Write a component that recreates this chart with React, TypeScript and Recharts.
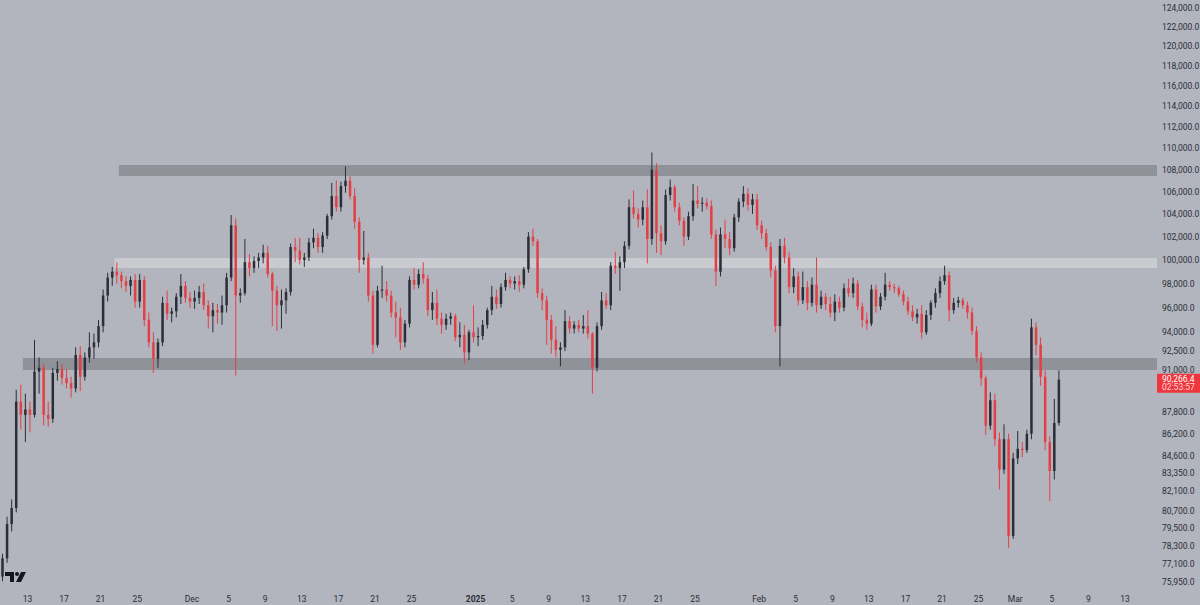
import React from 'react'
import { ComposedChart, Bar, XAxis, YAxis, ReferenceArea, ReferenceLine } from 'recharts'

// 12h candles, [open, high, low, close] in thousands USD
const nov = [
  [76.3, 77.8, 76.0, 77.5], [77.5, 80.3, 77.2, 79.8], [79.8, 81.5, 79.3, 80.9], [80.9, 89.5, 80.6, 88.6],
  [88.6, 89.9, 86.5, 87.6], [87.6, 89.2, 85.6, 88.0], [88.0, 88.6, 86.3, 87.6], [87.6, 93.4, 87.4, 90.9],
  [90.9, 92.0, 89.2, 91.2], [91.2, 91.5, 86.8, 87.6], [87.6, 88.6, 86.7, 87.3], [87.3, 91.2, 87.0, 90.8],
  [90.8, 91.7, 90.2, 91.1], [91.1, 91.5, 89.9, 90.4], [90.4, 91.1, 89.6, 90.0], [90.0, 90.5, 88.9, 89.6],
  [89.6, 92.8, 89.3, 92.2], [92.2, 92.9, 89.4, 90.5], [90.5, 92.4, 90.2, 92.0], [92.0, 94.0, 91.6, 92.8],
  [92.8, 93.9, 91.9, 93.2], [93.2, 95.0, 92.8, 94.5], [94.5, 97.5, 94.0, 97.0], [97.0, 98.9, 96.5, 98.5],
  [98.5, 99.4, 97.8, 99.0], [99.0, 99.8, 98.0, 98.7], [98.7, 99.0, 97.6, 98.2], [98.2, 98.6, 97.3, 97.8],
  [97.8, 98.6, 97.0, 98.3], [98.3, 98.8, 96.0, 96.5], [96.5, 98.8, 96.0, 98.3], [98.3, 98.6, 94.5, 95.0],
  [95.0, 95.6, 92.8, 93.2], [93.2, 94.0, 90.8, 91.9], [91.9, 93.5, 91.2, 93.2], [93.2, 96.9, 92.9, 96.4],
  [96.4, 97.4, 95.0, 95.5], [95.5, 96.0, 94.8, 95.7], [95.7, 97.2, 95.2, 96.9], [96.9, 98.8, 96.3, 97.8],
  [97.8, 98.2, 96.4, 96.8], [96.8, 97.3, 96.0, 96.5],
]

const dec = [
  [96.5, 97.4, 95.9, 96.8], [96.8, 97.8, 96.3, 97.3], [97.3, 98.0, 95.8, 96.2], [96.2, 96.6, 94.3, 95.3],
  [95.3, 96.4, 94.0, 95.8], [95.8, 96.3, 94.7, 95.6], [95.6, 97.0, 94.6, 96.2], [96.2, 98.9, 95.6, 98.5],
  [98.5, 103.9, 98.2, 103.0], [103.0, 103.6, 90.6, 97.0], [97.0, 97.6, 96.4, 97.2], [97.2, 101.8, 97.0, 99.8],
  [99.8, 100.5, 98.6, 99.3], [99.3, 100.3, 98.9, 99.9], [99.9, 100.6, 99.3, 100.2], [100.2, 101.3, 99.7, 100.6],
  [100.6, 101.2, 98.5, 98.8], [98.8, 99.0, 94.5, 97.4], [97.4, 97.8, 94.1, 96.2], [96.2, 97.5, 94.3, 96.6],
  [96.6, 97.6, 95.5, 97.3], [97.3, 101.4, 97.0, 101.1], [101.1, 101.9, 99.8, 100.8], [100.8, 101.9, 99.6, 100.0],
  [100.0, 100.6, 99.4, 100.2], [100.2, 101.9, 99.9, 101.5], [101.5, 102.7, 101.0, 101.9], [101.9, 102.3, 100.6, 101.1],
  [101.1, 102.4, 100.6, 102.1], [102.1, 104.0, 101.8, 103.8], [103.8, 106.8, 103.5, 105.6], [105.6, 107.0, 104.2, 104.6],
  [104.6, 106.9, 104.2, 106.5], [106.5, 108.3, 105.9, 107.0], [107.0, 107.4, 105.3, 105.6], [105.6, 106.3, 102.7, 103.3],
  [103.3, 103.7, 98.9, 100.0], [100.0, 102.5, 99.6, 100.2], [100.2, 100.6, 96.5, 97.0], [97.0, 97.4, 92.3, 93.0],
  [93.0, 97.8, 92.8, 97.4], [97.4, 99.5, 96.8, 97.5], [97.5, 98.2, 96.5, 97.0], [97.0, 97.4, 95.2, 95.6],
  [95.6, 96.5, 93.6, 95.2], [95.2, 96.0, 92.6, 93.2], [93.2, 95.0, 92.8, 94.7], [94.7, 98.6, 94.4, 98.3],
  [98.3, 99.3, 97.5, 97.9], [97.9, 99.2, 97.6, 98.8], [98.8, 99.8, 98.0, 98.4], [98.4, 98.7, 95.3, 95.8],
  [95.8, 97.3, 95.0, 96.4], [96.4, 97.5, 94.6, 95.1], [95.1, 95.6, 93.9, 94.6], [94.6, 95.5, 94.2, 95.1],
  [95.1, 95.6, 94.6, 95.3], [95.3, 95.5, 93.3, 93.6], [93.6, 94.8, 92.8, 93.8], [93.8, 94.6, 91.5, 92.4],
  [92.4, 94.2, 91.8, 94.0], [94.0, 96.2, 93.2, 93.6],
]

const jan = [
  [93.6, 94.4, 92.9, 93.7], [93.7, 95.0, 93.4, 94.6], [94.6, 96.0, 94.3, 95.8], [95.8, 97.8, 95.4, 96.9],
  [96.9, 97.5, 95.9, 96.3], [96.3, 98.0, 96.0, 97.7], [97.7, 98.9, 97.4, 98.3], [98.3, 98.6, 97.6, 98.0],
  [98.0, 98.6, 97.5, 98.2], [98.2, 98.7, 97.3, 97.9], [97.9, 99.4, 97.6, 99.2], [99.2, 102.4, 98.9, 102.0],
  [102.0, 102.7, 101.2, 101.6], [101.6, 101.8, 96.8, 97.2], [97.2, 97.6, 95.8, 96.6], [96.6, 97.0, 93.0, 95.0],
  [95.0, 95.4, 92.3, 93.4], [93.4, 94.5, 92.0, 92.6], [92.6, 93.2, 91.3, 92.8], [92.8, 95.8, 92.5, 94.9],
  [94.9, 95.3, 93.9, 94.3], [94.3, 94.9, 93.9, 94.6], [94.6, 95.0, 94.0, 94.3], [94.3, 95.4, 93.9, 94.5],
  [94.5, 95.8, 93.5, 93.9], [93.9, 94.0, 89.2, 91.2], [91.2, 94.8, 90.9, 94.5], [94.5, 97.3, 94.2, 96.6],
  [96.6, 97.2, 95.9, 96.2], [96.2, 99.8, 95.8, 99.5], [99.5, 100.7, 98.8, 99.3], [99.3, 100.3, 97.4, 99.8],
  [99.8, 101.6, 99.3, 101.2], [101.2, 105.3, 100.9, 104.6], [104.6, 106.1, 103.6, 104.0], [104.0, 104.5, 102.8, 103.5],
  [103.5, 105.2, 103.0, 104.6], [104.6, 106.2, 99.7, 101.8], [101.8, 109.6, 101.3, 108.0], [108.0, 108.6, 100.6, 102.3],
  [102.3, 103.0, 100.4, 101.6], [101.6, 106.2, 101.3, 105.7], [105.7, 107.1, 105.2, 106.4], [106.4, 106.6, 104.2, 104.6],
  [104.6, 105.0, 103.0, 103.4], [103.4, 103.7, 101.2, 102.0], [102.0, 104.2, 101.7, 103.8], [103.8, 106.7, 103.4, 105.2],
  [105.2, 106.5, 104.5, 104.9], [104.9, 105.5, 104.2, 105.0], [105.0, 105.4, 104.4, 104.7],
  [104.7, 105.2, 101.8, 102.2], [102.2, 102.6, 97.8, 99.0], [99.0, 102.8, 98.6, 102.2], [102.2, 103.5, 101.0, 101.8],
  [101.8, 102.4, 100.4, 101.0], [101.0, 104.0, 100.7, 103.7], [103.7, 105.4, 103.3, 105.1], [105.1, 106.5, 104.6, 105.8],
  [105.8, 106.3, 104.3, 104.8], [104.8, 105.8, 104.0, 105.3],
]

const feb = [
  [105.3, 105.8, 102.6, 103.0], [103.0, 103.4, 101.8, 102.3], [102.3, 102.7, 100.8, 101.1], [101.1, 101.5, 98.5, 99.1],
  [99.1, 99.5, 94.0, 94.5], [94.5, 101.8, 91.3, 101.2], [101.2, 101.9, 99.7, 100.2], [100.2, 100.7, 97.2, 97.7],
  [97.7, 99.3, 97.2, 98.6], [98.6, 99.0, 96.2, 96.6], [96.6, 99.0, 96.3, 97.7], [97.7, 98.2, 95.8, 96.4],
  [96.4, 98.5, 96.1, 97.9], [97.9, 100.2, 95.6, 96.2], [96.2, 97.4, 95.9, 96.9], [96.9, 97.2, 95.8, 96.3],
  [96.3, 96.9, 95.2, 95.6], [95.6, 97.1, 94.9, 96.5], [96.5, 96.9, 95.6, 96.0], [96.0, 98.0, 95.7, 97.6],
  [97.6, 98.4, 96.9, 97.2], [97.2, 98.5, 96.8, 98.0], [98.0, 98.3, 95.8, 96.1], [96.1, 96.4, 94.4, 95.0],
  [95.0, 95.6, 94.2, 94.7], [94.7, 97.9, 94.5, 97.5], [97.5, 97.9, 95.6, 96.1], [96.1, 97.2, 95.8, 96.9],
  [96.9, 98.9, 96.6, 97.9], [97.9, 98.2, 97.4, 97.7], [97.7, 98.0, 97.2, 97.6], [97.6, 97.8, 96.9, 97.1],
  [97.1, 97.4, 96.2, 96.5], [96.5, 96.9, 95.4, 95.7], [95.7, 96.2, 94.9, 95.2], [95.2, 95.9, 94.7, 95.5],
  [95.5, 96.2, 93.5, 94.0], [94.0, 95.8, 93.8, 95.4], [95.4, 96.6, 95.0, 96.4], [96.4, 97.6, 96.0, 97.2],
  [97.2, 98.6, 96.8, 98.2], [98.2, 99.5, 97.9, 98.7], [98.7, 99.0, 94.9, 95.8], [95.8, 96.8, 95.5, 96.4],
  [96.4, 96.9, 96.0, 96.6], [96.6, 96.8, 95.9, 96.2], [96.2, 96.5, 95.1, 95.6], [95.6, 96.0, 93.8, 94.1],
  [94.1, 94.5, 91.6, 92.0], [92.0, 92.4, 89.8, 90.4], [90.4, 90.6, 86.1, 86.8], [86.8, 89.3, 86.5, 88.7],
  [88.7, 89.2, 85.3, 85.8], [85.8, 86.3, 82.2, 83.6], [83.6, 86.9, 83.3, 85.8], [85.8, 86.2, 78.2, 79.0],
]

const mar = [
  [79.0, 84.8, 78.8, 84.4], [84.4, 86.4, 84.0, 85.1], [85.1, 85.6, 84.5, 85.0], [85.0, 86.5, 84.8, 86.2],
  [86.2, 95.1, 85.8, 94.4], [94.4, 94.8, 92.2, 93.0], [93.0, 93.6, 89.8, 90.5], [90.5, 91.0, 85.0, 85.6],
  [85.6, 86.0, 81.4, 83.5], [83.5, 88.8, 82.9, 87.0], [87.0, 91.0, 86.8, 90.27],
]

// total 12h slots on the time axis (Nov 10 .. mid March)
const SLOTS = 253

// x-axis labels: slot index -> text
const tickIdx = [6, 14, 22, 30, 42, 50, 58, 66, 74, 82, 90, 104, 112, 120, 128, 136, 144, 152, 166, 174, 182, 190, 198, 206, 214, 222, 230, 238, 246]
const tickText = ['13', '17', '21', '25', 'Dec', '5', '9', '13', '17', '21', '25', '2025', '5', '9', '13', '17', '21', '25', 'Feb', '5', '9', '13', '17', '21', '25', 'Mar', '5', '9', '13']

const yTicks = [124000, 122000, 120000, 118000, 116000, 114000, 112000, 110000, 108000, 106000, 104000, 102000, 100000, 98000, 96000, 94000, 92500, 91000, 87800, 86200, 84600, 83350, 82100, 80700, 79500, 78300, 77100, 75950]

// horizontal zones
const zones = [
  { lo: 107430, hi: 108440, from: 26, fill: '#8f9298' },
  { lo: 99310, hi: 100160, from: 25, fill: '#c9cbd0' },
  { lo: 91025, hi: 91960, from: 5, fill: '#8f9298' },
]

const lastPrice = 90266.4
const lastTimer = '02:53:57'

const BG = '#b2b5bd'
const UP = '#2b2e36'
const DOWN = '#e53f45'
const TXT = '#2a2e39'

const candles = [...nov, ...dec, ...jan, ...feb, ...mar]
const data = Array.from({ length: SLOTS }, (_, i) => {
  const cd = candles[i]
  if (!cd) return { i, o: null, h: null, l: null, c: null }
  return { i, o: cd[0] * 1000, h: cd[1] * 1000, l: cd[2] * 1000, c: cd[3] * 1000 }
})

const Candle = (props: any) => {
  const { x, y, width, height, payload } = props
  if (!payload || payload.h == null || !isFinite(y) || !isFinite(height)) return null
  const { o, h, l, c } = payload
  const yHi = Math.min(y, y + height)
  const yLo = Math.max(y, y + height)
  const span = Math.log(h) - Math.log(l) || 1
  const py = (p: number) => yHi + (yLo - yHi) * (Math.log(h) - Math.log(p)) / span
  const col = c >= o ? UP : DOWN
  const cx = x + width / 2
  const top = py(Math.max(o, c))
  const bot = py(Math.min(o, c))
  return (
    <g>
      <line x1={cx} x2={cx} y1={yHi} y2={yLo} stroke={col} strokeWidth={1} />
      <rect x={cx - 1.25} y={top} width={2.5} height={Math.max(1, bot - top)} fill={col} />
    </g>
  )
}

const XTick = ({ x, y, payload }: any) => {
  const k = tickIdx.indexOf(payload.value)
  const label = tickText[k]
  return (
    <text x={x - 2.3} y={y + 6} textAnchor="middle" fontSize={8.5} fontFamily="Roboto" fill={TXT}
      fontWeight={label === '2025' ? 700 : 400}>
      {label}
    </text>
  )
}

const YTick = ({ x, y, payload }: any) => (
  <text x={x} y={y} dy={3} textAnchor="start" fontSize={8.5} fontFamily="Roboto" fill={TXT}>
    {payload.value.toLocaleString('en-US', { minimumFractionDigits: 1, maximumFractionDigits: 1 })}
  </text>
)

const PriceTag = ({ viewBox }: any) => {
  if (!viewBox) return null
  const x0 = viewBox.x + viewBox.width
  const y0 = viewBox.y
  return (
    <g>
      <rect x={x0} y={y0 - 6} width={43} height={19} fill="#f0363d" />
      <text x={x0 + 5} y={y0 + 2} fontSize={8.5} fontFamily="Roboto" fill="#ffffff">
        {lastPrice.toLocaleString('en-US', { minimumFractionDigits: 1 })}
      </text>
      <text x={x0 + 5} y={y0 + 10} fontSize={8.5} fontFamily="Roboto" fill="#ffd9da">{lastTimer}</text>
    </g>
  )
}

export default function App() {
  return (
    <div style={{ position: 'absolute', left: 0, top: 0, width: 1200, height: 605, background: BG }}>
      <ComposedChart width={1200} height={605} data={data} barCategoryGap={0}
        margin={{ top: 0, right: 0, bottom: 0, left: 0 }}>
        <XAxis dataKey="i" type="category" ticks={tickIdx} interval={0} axisLine={false} tickLine={false}
          height={17} tick={<XTick />} />
        <YAxis orientation="right" scale="log" domain={[75560, 124850]} allowDataOverflow ticks={yTicks}
          interval={0} axisLine={false} tickLine={false} width={43} tick={<YTick />} tickMargin={0} tickSize={5} />
        {zones.map((z, n) => (
          <ReferenceArea key={n} x1={z.from} x2={SLOTS - 1} y1={z.lo} y2={z.hi} fill={z.fill}
            fillOpacity={1} stroke="none" ifOverflow="visible" />
        ))}
        <Bar dataKey={(d: any) => (d.h == null ? null : [d.l, d.h])} shape={<Candle />} isAnimationActive={false} />
        <ReferenceLine y={lastPrice} stroke="none" label={<PriceTag />} />
      </ComposedChart>
      <svg width={30} height={16} style={{ position: 'absolute', left: 4, top: 570 }}>
        <path d="M1 2 H10 V12 H6 V6 H1 Z" fill="#131722" />
        <circle cx={13} cy={4} r={2} fill="#131722" />
        <path d="M17 2 H22 L17 12 H12 Z" fill="#131722" />
      </svg>
    </div>
  )
}
